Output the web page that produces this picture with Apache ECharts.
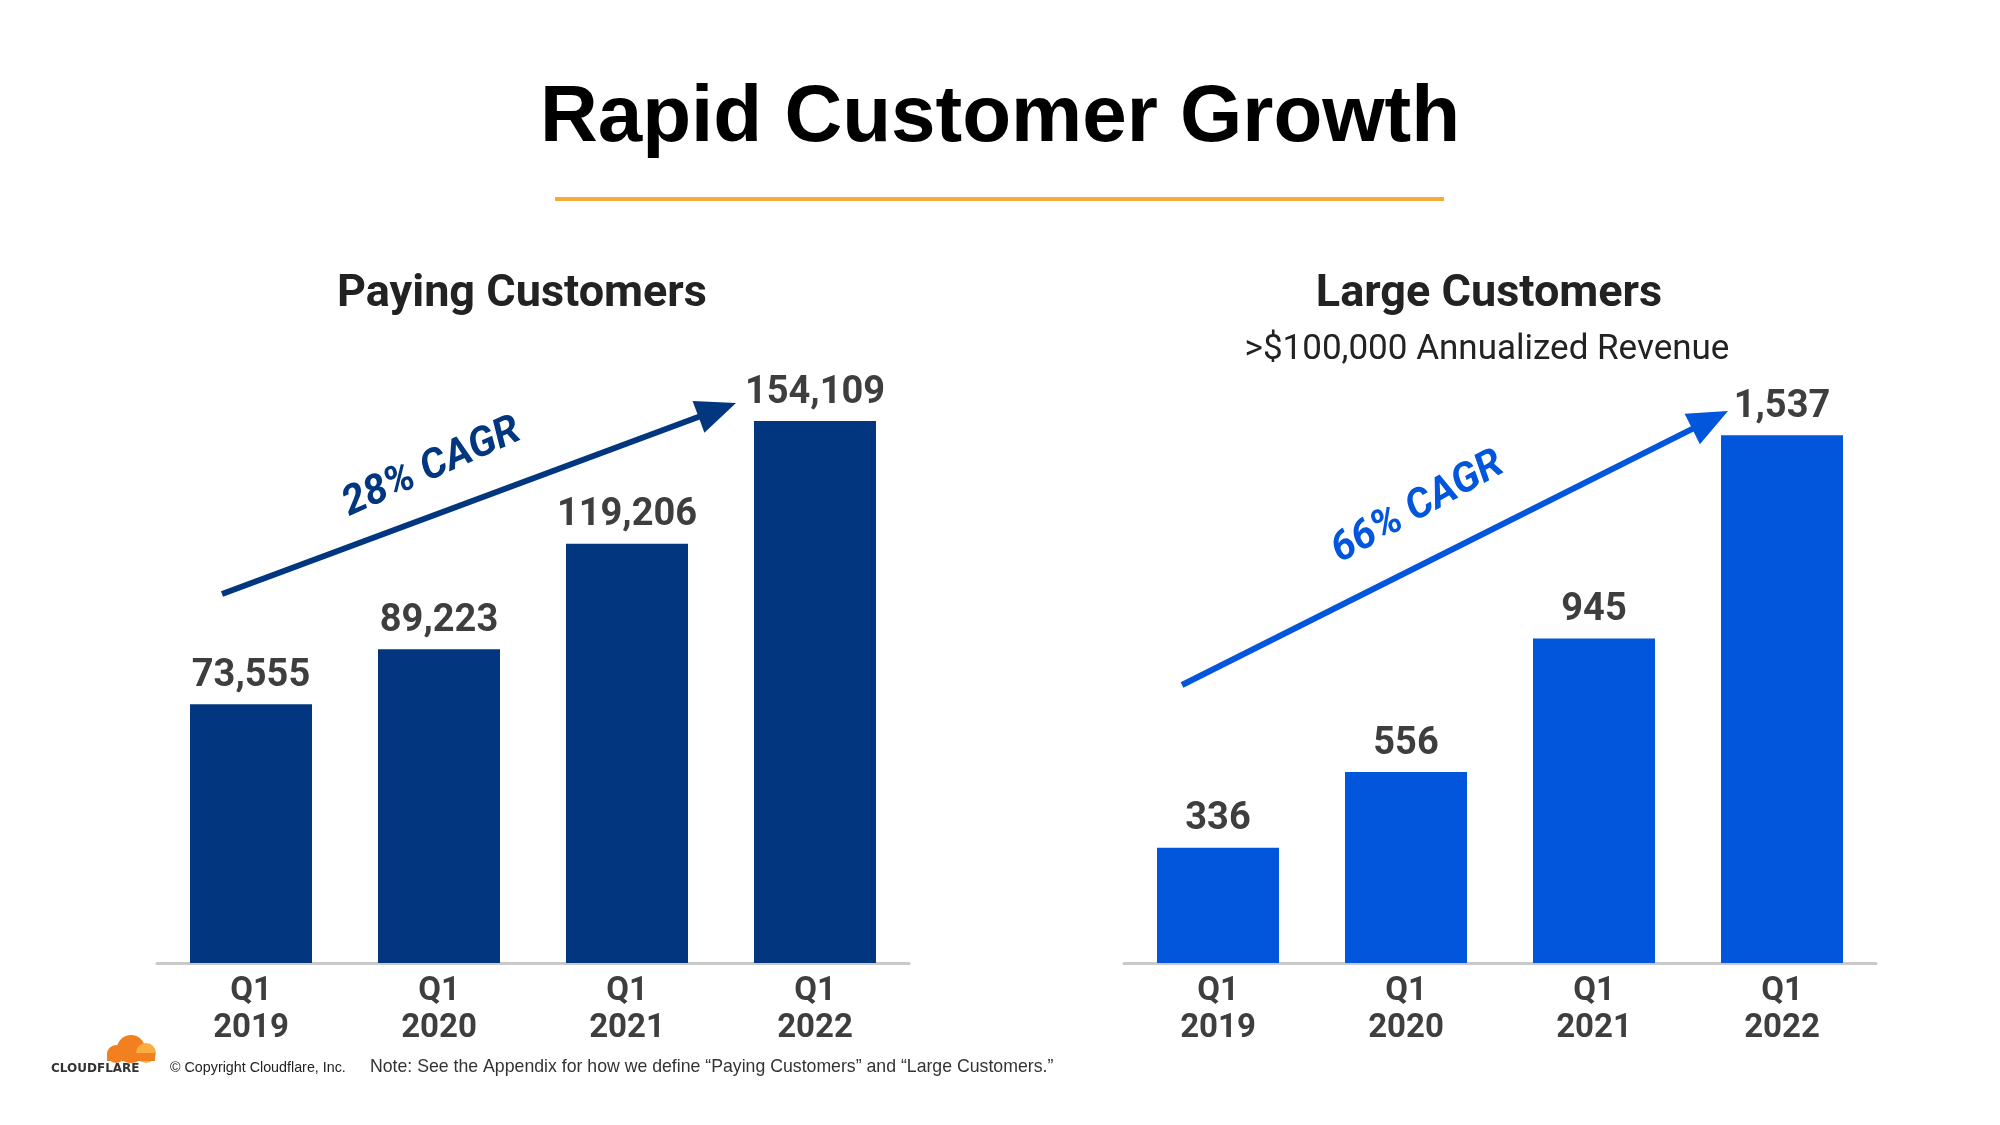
<!DOCTYPE html>
<html>
<head>
<meta charset="utf-8">
<script src="https://cdn.jsdelivr.net/npm/echarts@6/dist/echarts.min.js"></script>
<style>
html,body{margin:0;padding:0;background:#fff;}
#chart{width:2000px;height:1125px;}
</style>
</head>
<body>
<div id="chart"></div>
<script>
const categories = ['Q1\n2019', 'Q1\n2020', 'Q1\n2021', 'Q1\n2022'];
const payingCustomers = [73555, 89223, 119206, 154109];
const largeCustomers = [336, 556, 945, 1537];
const cagrLabels = ['28% CAGR', '66% CAGR'];

const navy = '#02377f';
const blue = '#0156dc';
const labelGray = '#3e3e3e';

function arrow(x1, y1, x2, y2, color) {
  const ang = Math.atan2(y2 - y1, x2 - x1);
  const headLen = 40, headW = 17;
  const bx = x2 - headLen * Math.cos(ang), by = y2 - headLen * Math.sin(ang);
  const px = -Math.sin(ang), py = Math.cos(ang);
  return [
    { type: 'line', shape: { x1: x1, y1: y1, x2: bx + 4 * Math.cos(ang), y2: by + 4 * Math.sin(ang) },
      style: { stroke: color, lineWidth: 6 } },
    { type: 'polygon', shape: { points: [[x2, y2], [bx + px * headW, by + py * headW], [bx - px * headW, by - py * headW]] },
      style: { fill: color } }
  ];
}

const chart = echarts.init(document.getElementById('chart'), null, { renderer: 'canvas' });

const fmt = p => Number(p.value).toLocaleString('en-US');

const xAxisCommon = {
  type: 'category',
  data: categories,
  axisTick: { show: false },
  axisLine: { lineStyle: { color: '#c9c9c9', width: 3 } },
  axisLabel: { fontFamily: 'Roboto', fontWeight: 'bold', fontSize: 33, color: labelGray, lineHeight: 37, margin: 10 }
};

const option = {
  backgroundColor: '#ffffff',
  animation: false,
  grid: [
    { left: 157, width: 752, top: 330, height: 633 },
    { left: 1124, width: 752, top: 345, height: 618 }
  ],
  xAxis: [
    Object.assign({ gridIndex: 0 }, xAxisCommon),
    Object.assign({ gridIndex: 1 }, xAxisCommon)
  ],
  yAxis: [
    { gridIndex: 0, type: 'value', min: 0, max: 180000, show: false },
    { gridIndex: 1, type: 'value', min: 0, max: 1800, show: false }
  ],
  series: [
    {
      type: 'bar', xAxisIndex: 0, yAxisIndex: 0, data: payingCustomers, barWidth: 122,
      itemStyle: { color: navy },
      label: { show: true, position: 'top', distance: 9, formatter: fmt,
        fontFamily: 'Roboto', fontWeight: 'bold', fontSize: 38, color: labelGray }
    },
    {
      type: 'bar', xAxisIndex: 1, yAxisIndex: 1, data: largeCustomers, barWidth: 122,
      itemStyle: { color: blue },
      label: { show: true, position: 'top', distance: 9, formatter: fmt,
        fontFamily: 'Roboto', fontWeight: 'bold', fontSize: 38, color: labelGray }
    }
  ],
  graphic: [
    { type: 'text', left: 'center', top: 79,
      style: { text: 'Rapid Customer Growth', fontFamily: 'Liberation Sans', fontWeight: 'bold', fontSize: 80, fill: '#000' } },
    { type: 'rect', shape: { x: 555, y: 197, width: 889, height: 4 }, style: { fill: '#f7a93b' } },
    { type: 'text', x: 522, y: 295,
      style: { text: 'Paying Customers', fontFamily: 'Roboto', fontWeight: 'bold', fontSize: 45, fill: '#222', align: 'center', verticalAlign: 'middle' } },
    { type: 'text', x: 1489, y: 295,
      style: { text: 'Large Customers', fontFamily: 'Roboto', fontWeight: 'bold', fontSize: 45, fill: '#222', align: 'center', verticalAlign: 'middle' } },
    { type: 'text', x: 1487, y: 350,
      style: { text: '>$100,000 Annualized Revenue', fontFamily: 'Roboto', fontSize: 35, fill: '#222', align: 'center', verticalAlign: 'middle' } },
    ...arrow(222, 594, 736, 403, navy),
    ...arrow(1182, 685, 1728, 411, blue),
    { type: 'text', x: 432, y: 468, rotation: 24 * Math.PI / 180,
      style: { text: cagrLabels[0], fontFamily: 'Roboto', fontWeight: 'bold', fontStyle: 'italic', fontSize: 41, fill: navy, align: 'center', verticalAlign: 'middle' } },
    { type: 'text', x: 1418, y: 508, rotation: 29 * Math.PI / 180,
      style: { text: cagrLabels[1], fontFamily: 'Roboto', fontWeight: 'bold', fontStyle: 'italic', fontSize: 41, fill: blue, align: 'center', verticalAlign: 'middle' } },
    // Cloudflare logo (cloud)
    { type: 'circle', shape: { cx: 131, cy: 1049, r: 14 }, style: { fill: '#f38020' } },
    { type: 'circle', shape: { cx: 116, cy: 1054, r: 9 }, style: { fill: '#f38020' } },
    { type: 'circle', shape: { cx: 146, cy: 1053, r: 10 }, style: { fill: '#faad3f' } },
    { type: 'rect', shape: { x: 107, y: 1053, width: 48, height: 8 }, style: { fill: '#f38020' } },
    { type: 'text', x: 51, y: 1069,
      style: { text: 'CLOUDFLARE', fontFamily: 'DejaVu Sans', fontWeight: 'bold', fontSize: 12, fill: '#333', verticalAlign: 'middle' } },
    { type: 'text', x: 170, y: 1068,
      style: { text: '\u00a9 Copyright Cloudflare, Inc.', fontFamily: 'Liberation Sans', fontSize: 14.3, fill: '#222', verticalAlign: 'middle' } },
    { type: 'text', x: 370, y: 1067,
      style: { text: 'Note: See the Appendix for how we define \u201cPaying Customers\u201d and \u201cLarge Customers.\u201d', fontFamily: 'Liberation Sans', fontSize: 17.7, fill: '#333', verticalAlign: 'middle' } }
  ]
};

chart.setOption(option);
</script>
</body>
</html>
